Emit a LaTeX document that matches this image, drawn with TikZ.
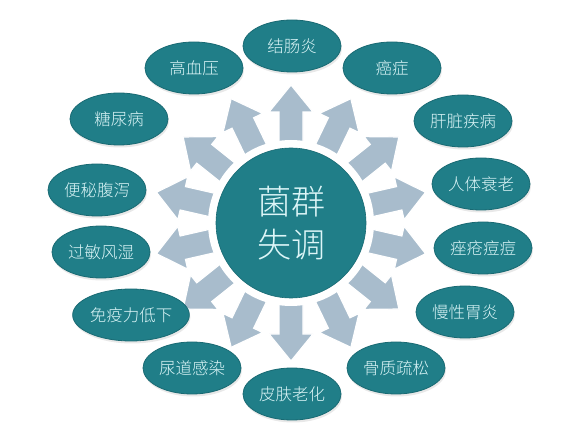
\documentclass[tikz,border=0pt]{standalone}
\usepackage{fontspec}
\newfontfamily\cjk{Noto Sans CJK SC}[UprightFont={* Light}]
\usetikzlibrary{shapes.geometric,shadows}
\definecolor{teal1}{HTML}{207E88}
\definecolor{teal2}{HTML}{196A73}
\definecolor{arrowc}{HTML}{A8BCCC}
\definecolor{txtc}{HTML}{DDF6F8}
\tikzset{
  ell/.style={ellipse, fill=teal1, draw=teal2, line width=0.8pt,
    minimum width=98pt, minimum height=52pt, inner sep=0pt,
    text=txtc, font=\cjk\fontsize{16.5}{18}\selectfont,
    drop shadow={opacity=0.18, shadow xshift=1pt, shadow yshift=-2.5pt}},
  blockarrow/.style={fill=arrowc, draw=white, line width=1.2pt, line join=miter},
  hub/.style={circle, fill=teal1, draw=teal2, line width=0.6pt, minimum size=150pt, inner sep=0pt,
    text=txtc, font=\cjk\fontsize{34}{43}\selectfont, align=center},
}
\begin{document}
\begin{tikzpicture}[x=1pt,y=-1pt]
\useasboundingbox[fill=white] (0,0) rectangle (581,435);
\coordinate (c) at (291,223);
% arrows
\foreach \k in {0,...,13}{
  \pgfmathsetmacro{\ang}{90+\k*360/14}
  \begin{scope}[shift={(c)}, rotate=\ang]
    \draw[blockarrow] (80,-12) -- (111,-12) -- (111,-22) -- (138,0) -- (111,22) -- (111,12) -- (80,12) -- cycle;
  \end{scope}
}
% halo and hub
\fill[white] (c) circle (83);
\node[hub] (hub) at (c) {菌群\\失调};
% outer ellipses
\node[ell] (e1) at (292,46) {结肠炎};
\node[ell] (e2) at (194,68) {高血压};
\node[ell] (e3) at (392,68) {癌症};
\node[ell] (e4) at (119,119) {糖尿病};
\node[ell] (e5) at (463,121) {肝脏疾病};
\node[ell] (e6) at (97,190) {便秘腹泻};
\node[ell] (e7) at (101,252) {过敏风湿};
\node[ell] (e8) at (131,315) {免疫力低下};
\node[ell] (e9) at (192,368) {尿道感染};
\node[ell] (e10) at (292,394) {皮肤老化};
\node[ell] (e11) at (396,368) {骨质疏松};
\node[ell] (e12) at (465,312) {慢性胃炎};
\node[ell] (e13) at (483,248) {痤疮痘痘};
\node[ell] (e14) at (481,184) {人体衰老};
\end{tikzpicture}
\end{document}
